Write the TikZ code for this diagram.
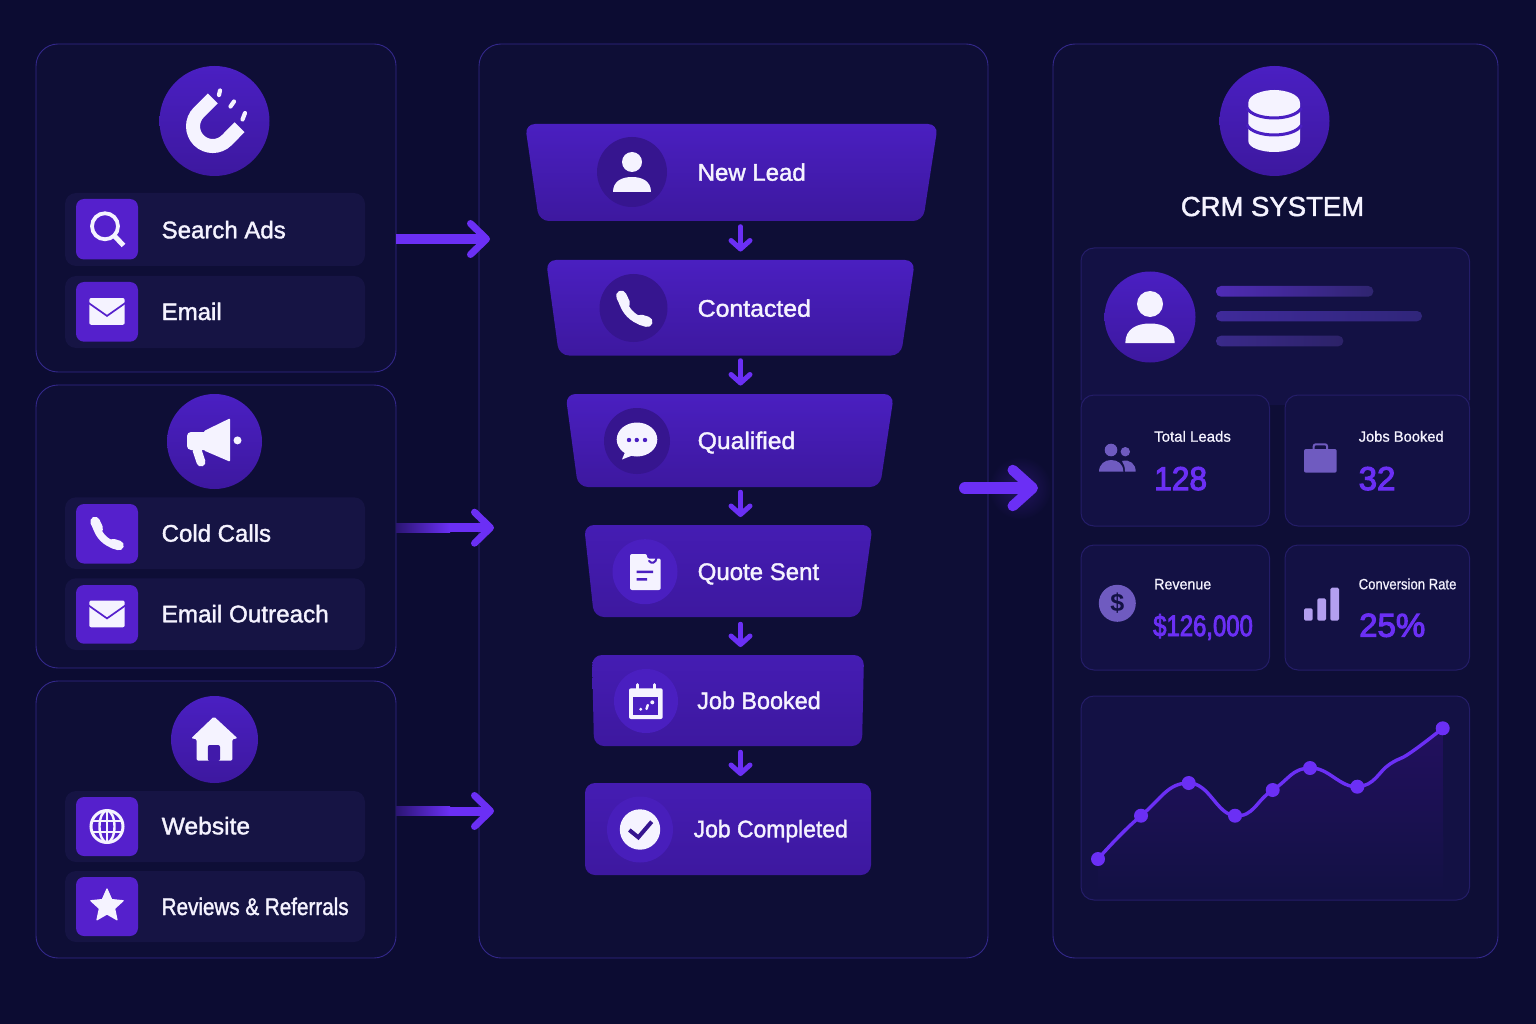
\documentclass[tikz,border=0pt]{standalone}
\usepackage{fontspec}
\setmainfont{Liberation Sans}
\newfontfamily\medf[FakeBold=1.6]{Liberation Sans}
\newfontfamily\smallf[FakeBold=0.8]{Liberation Sans}
\newfontfamily\numf[FakeBold=3.2]{Liberation Sans}
\usetikzlibrary{arrows.meta,calc}
\definecolor{bgc}{HTML}{0C0C32}
\definecolor{panelc}{HTML}{0E0E36}
\definecolor{linec}{HTML}{33288A}
\definecolor{rowc}{HTML}{161444}
\definecolor{cardc}{HTML}{131144}
\definecolor{cardl}{HTML}{241D68}
\definecolor{tilec}{HTML}{5520CC}
\definecolor{circt}{HTML}{4A1FC2}
\definecolor{circb}{HTML}{3D189F}
\definecolor{stagedk}{HTML}{36158F}
\definecolor{stagelt}{HTML}{4A1FC0}
\colorlet{stagetop}{stagelt}
\definecolor{arrowc}{HTML}{6B2FF5}
\definecolor{txtc}{HTML}{F5F3FF}
\definecolor{iconc}{HTML}{6F5BC0}
\definecolor{barc}{HTML}{B39FF0}
\definecolor{lineAa}{HTML}{4F2BB5}
\definecolor{lineAb}{HTML}{2F2570}
\definecolor{lineBa}{HTML}{3F2A9A}
\definecolor{lineBb}{HTML}{30267A}
\definecolor{lineCa}{HTML}{3A2A8A}
\definecolor{lineCb}{HTML}{2C2268}
\definecolor{areat}{HTML}{22105F}
\tikzset{
  panel/.style={draw=linec,line width=.9pt,fill=panelc,rounded corners=22pt},
  rowbox/.style={fill=rowc,rounded corners=11pt},
  tile/.style={fill=tilec,rounded corners=8pt},
  card/.style={draw=cardl,line width=1pt,fill=cardc,rounded corners=13pt},
  ghost/.style={draw=none,fill=none},
  bigcirc/.style={circle,inner sep=0pt,top color=circt,bottom color=circb,draw=none},
  rowlabel/.style={anchor=base west,inner sep=0pt,text=txtc,font=\medf\fontsize{24}{24}\selectfont},
  smalllabel/.style={anchor=base west,inner sep=0pt,text=txtc,font=\smallf\fontsize{15}{15}\selectfont},
  numlabel/.style={anchor=base west,inner sep=0pt,text=arrowc,font=\numf\fontsize{33}{33}\selectfont},
  sidearrow/.style={draw=arrowc,line width=#1,-{Straight Barb[round,line width=7pt,length=16pt,width=31pt]}},
  downarrow/.style={draw=arrowc,line width=4.5pt,line cap=round,-{Straight Barb[round,line width=5pt,length=8.5pt,width=19pt]}},
  bigarrow/.style={draw=arrowc,line width=12pt,line cap=round,-{Straight Barb[round,line width=10.5pt,length=20pt,width=36pt]}},
}
% box node from corner coordinates
\newcommand\bx[6]{%
  \pgfmathsetmacro\cxv{(#3+#5)/2}\pgfmathsetmacro\cyv{(#4+#6)/2}%
  \pgfmathsetmacro\wv{#5-#3}\pgfmathsetmacro\hv{#6-#4}%
  \node[#1,inner sep=0pt,outer sep=0pt,minimum width=\wv pt,minimum height=\hv pt] (#2) at (\cxv,\cyv) {};}
% funnel stage: name, xtl xtr xbl xbr yt yb
\newcommand\stage[7]{%
  \shade[top color=stagetop,bottom color=circb,rounded corners=10pt]
    (#2,#6) -- (#3,#6) -- (#5,#7) -- (#4,#7) -- cycle;
  \bx{ghost}{#1}{#2}{#6}{#3}{#7}}
\newcommand\person[4]{\begin{scope}[shift={(#1,#2)},scale=#3]
  \fill[#4] (0,-10) circle (10);
  \fill[#4] (-19,20) .. controls (-19,9) and (-10,5) .. (0,5) .. controls (10,5) and (19,9) .. (19,20) -- cycle;
\end{scope}}
\newcommand\phoneicon[3]{\begin{scope}[shift={(#1,#2)},scale=#3]
  \draw[txtc,line width=#3*10.5pt,line cap=round] (-13,-13) -- (-9.5,-5.5);
  \draw[txtc,line width=#3*8pt] (-11.5,-8) .. controls (-9.5,2) and (-1,10) .. (8,12.5);
  \draw[txtc,line width=#3*10.5pt,line cap=round] (6.5,11) -- (13,13);
\end{scope}}
\newcommand\envelope[2]{\begin{scope}[shift={(#1,#2)}]
  \fill[txtc,rounded corners=2pt] (-17.7,-13.5) rectangle (17.7,13.3);
  \draw[tilec,line width=1.7pt] (-18.5,-8.6) -- (0,4.4) -- (18.5,-8.6);
\end{scope}}
\begin{document}
\begin{tikzpicture}[x=1pt,y=-1pt]
\useasboundingbox (0,0) rectangle (1536,1024);
\fill[bgc] (0,0) rectangle (1536,1024);
% ---- panels
\bx{panel}{srcA}{36}{44}{396}{372}
\bx{panel}{srcB}{36}{385}{396}{668}
\bx{panel}{srcC}{36}{681}{396}{958}
\bx{panel}{mid}{479}{44}{988}{958}
\bx{panel}{crm}{1053}{44}{1498}{958}
% ---- glow behind the big arrow
\shade[inner color=arrowc!24!bgc,outer color=bgc,draw=none] (1020,488) circle (31.5);
% ---- source group A
\node[bigcirc,minimum size=110pt] (cA) at (214.5,121) {};
\draw[txtc,line width=14pt] (212.8,98.4) -- (198.8,112.4)
  arc[start angle=135,end angle=315,radius=19.7pt] -- (239.6,127.2);
\draw[txtc,line width=4.2pt,line cap=round] (220,90.5) -- (219,95)
  (234,101.5) -- (230.5,106.5) (245,113) -- (242.5,119.5);
\bx{rowbox}{r1}{65}{193}{365}{266}
\bx{tile}{t1}{76}{199}{138}{259.5}
\draw[txtc,line width=3.8pt] (t1.center) ++(-2,-3) circle (13);
\draw[txtc,line width=5pt] (115,236.5) -- (123.5,245.5);
\node[rowlabel] (l1) at (161.5,238.3) {Search Ads};
\bx{rowbox}{r2}{65}{276}{365}{348}
\bx{tile}{t2}{76}{282}{138}{341.7}
\envelope{107}{311.5}
\node[rowlabel] (l2) at (161.5,320) {Email};
% ---- source group B
\node[bigcirc,minimum size=95pt] (cB) at (214.5,441.5) {};
\fill[txtc,rounded corners=4pt] (187,432) rectangle (208,450);
\fill[txtc,rounded corners=1pt] (204,431) -- (230,418.3) -- (230,461.7) -- (204,450.5) -- cycle;
\draw[txtc,line width=9pt,line cap=round] (197,450) -- (201,462);
\fill[txtc] (237.5,440.4) circle (4);
\bx{rowbox}{r3}{65}{497.3}{365}{569}
\bx{tile}{t3}{76}{504}{138}{563.5}
\phoneicon{107}{533.5}{.92}
\node[rowlabel] (l3) at (161.5,541.7) {Cold Calls};
\bx{rowbox}{r4}{65}{578.3}{365}{650}
\bx{tile}{t4}{76}{585}{138}{643.7}
\envelope{107}{614}
\node[rowlabel] (l4) at (161.5,622.3) {\scalebox{1.01}[1]{Email Outreach}};
% ---- source group C
\node[bigcirc,minimum size=87pt] (cC) at (214.5,739.5) {};
\fill[txtc,rounded corners=1.5pt] (214,716.5) -- (237.7,738.5) -- (232.3,739) -- (232.3,760.7)
  -- (196.7,760.7) -- (196.7,739) -- (191,738.5) -- cycle;
\fill[circb!70!circt,rounded corners=2pt] (207.8,761) -- (207.8,745) -- (220,745) -- (220,761) -- cycle;
\bx{rowbox}{r5}{65}{791}{365}{862}
\bx{tile}{t5}{76}{797}{138}{856}
\begin{scope}[shift={(t5.center)}]
  \draw[txtc,line width=3pt] (0,0) circle (16);
  \draw[txtc,line width=2.4pt] (0,0) ellipse (7.5 and 16);
  \draw[txtc,line width=2.4pt] (0,-16) -- (0,16) (-16,-5.5) -- (16,-5.5) (-16,5.5) -- (16,5.5);
\end{scope}
\node[rowlabel] (l5) at (161.5,834.3) {\scalebox{1.025}[1]{Website}};
\bx{rowbox}{r6}{65}{871}{365}{942}
\bx{tile}{t6}{76}{877}{138}{936}
\begin{scope}[shift={(107,906)}]
  \filldraw[txtc,line width=1.2pt,line join=round] (0,-17) -- (4.7,-6.4) -- (16.2,-5.3) -- (7.6,2.5) -- (10,13.8)
    -- (0,8) -- (-10,13.8) -- (-7.6,2.5) -- (-16.2,-5.3) -- (-4.7,-6.4) -- cycle;
\end{scope}
\node[rowlabel] (l6) at (161.5,915) {\scalebox{.86}[1]{Reviews \& Referrals}};
% ---- funnel stages
\coordinate (fx) at (740.5,0);
\stage{f1}{525}{938}{539}{923}{124}{221}
\node[circle,fill=stagedk,inner sep=0pt,minimum size=70pt] (i1) at (632,172) {};
\person{632}{172}{1}{txtc}
\node[rowlabel] (sl1) at (697.5,180.7) {New Lead};
\stage{f2}{546}{915}{559}{901}{260}{355.5}
\node[circle,fill=stagedk,inner sep=0pt,minimum size=68pt] (i2) at (633.5,308) {};
\phoneicon{634.3}{308.8}{1}
\node[rowlabel] (sl2) at (697.5,316.7) {\scalebox{1.035}[1]{Contacted}};
\stage{f3}{565.5}{894}{578}{880}{394}{487}
\node[circle,fill=stagedk,inner sep=0pt,minimum size=66pt] (i3) at (637,441) {};
\fill[txtc] (637,439.5) ellipse (20.3 and 17);
\fill[txtc] (626,450) -- (622,459.5) -- (636,454) -- cycle;
\fill[circt] (629,440) circle (2.2) (636.8,440) circle (2.2) (645,440) circle (2.2);
\node[rowlabel] (sl3) at (697.5,449) {\scalebox{1.03}[1]{Qualified}};
\colorlet{stagetop}{stagelt!60!circb}
\stage{f4}{584}{872.7}{594}{860}{525}{617}
\node[circle,fill=stagelt,inner sep=0pt,minimum size=65pt] (i4) at (645,571.7) {};
\fill[txtc,rounded corners=2pt] (630,590) -- (630,554) -- (647,554) -- (647,558.5) -- (656,558.5) -- (660.7,558.5) -- (660.7,590) -- cycle;
\fill[stagelt] (648.5,553) rectangle (662,558);
\draw[stagelt,line width=2pt,line cap=round] (649,561) .. controls (651.5,564) and (656,563) .. (656.5,558);
\fill[stagelt] (636.7,570.6) rectangle (653,573) (636.7,578.2) rectangle (647,580.6);
\node[rowlabel] (sl4) at (697.5,580) {Quote Sent};
\stage{f5}{592}{864}{594}{862}{655}{746}
\node[circle,fill=stagelt,inner sep=0pt,minimum size=64pt] (i5) at (646,701) {};
\fill[txtc,rounded corners=2pt] (629,688.3) rectangle (662.7,719);
\draw[txtc,line width=3pt,line cap=round] (637.3,684.5) -- (637.3,690) (654,684.5) -- (654,690);
\fill[stagelt] (633.3,696.7) rectangle (658.3,715);
\fill[txtc] (640.7,709.3) circle (1.6);
\draw[txtc,line width=2.4pt,line cap=round] (646.5,709) -- (647.8,705);
\fill[txtc] (652.3,702.3) circle (2);
\node[rowlabel] (sl5) at (697,709) {\scalebox{.975}[1]{Job Booked}};
\stage{f6}{585}{871}{585}{871}{783}{875}
\node[circle,fill=stagelt!85!circb,inner sep=0pt,minimum size=66pt] (i6) at (640,829.5) {};
\fill[txtc] (640,829.5) circle (20.2);
\draw[stagedk,line width=4pt] (629.3,830) -- (638.3,837.3) -- (651.7,821.7);
\node[rowlabel] (sl6) at (693.5,837.3) {\scalebox{.955}[1]{Job Completed}};
% ---- connectors between stages
\draw[downarrow,shorten <=5.5pt,shorten >=8.5pt] (f1.south -| fx) -- (f2.north -| fx);
\draw[downarrow,shorten <=5pt,shorten >=8.5pt] (f2.south -| fx) -- (f3.north -| fx);
\draw[downarrow,shorten <=5pt,shorten >=8pt] (f3.south -| fx) -- (f4.north -| fx);
\draw[downarrow,shorten <=7pt,shorten >=8pt] (f4.south -| fx) -- (f5.north -| fx);
\draw[downarrow,shorten <=6pt,shorten >=7pt] (f5.south -| fx) -- (f6.north -| fx);
% ---- CRM column
\node[bigcirc,minimum size=110pt] (cD) at (1274.5,121) {};
\fill[txtc] (1248.3,103) .. controls (1248.3,94) and (1264,90) .. (1274.2,90) .. controls (1285,90) and (1300,94) .. (1300,103)
  -- (1300,141) .. controls (1300,148) and (1286,152) .. (1274.2,152) .. controls (1262,152) and (1248.3,148) .. (1248.3,141) -- cycle;
\draw[circt,line width=3pt] (1247,108) .. controls (1254,121.3) and (1294,121.3) .. (1301.5,108);
\draw[circt,line width=3pt] (1247,125) .. controls (1254,138.3) and (1294,138.3) .. (1301.5,125);
\node[anchor=base,inner sep=0pt,text=txtc,font=\medf\fontsize{27.5}{28}\selectfont] (crmt) at (1272.5,216) {CRM SYSTEM};
% profile card, its lower edge hidden behind the stats
\fill[cardc,rounded corners=13pt] (1081,405) -- (1081,248) -- (1469.5,248) -- (1469.5,405) -- cycle;
\fill[cardc] (1081,395) rectangle (1469.5,405);
\draw[cardl,line width=1pt,rounded corners=13pt] (1081,400) -- (1081,248) -- (1469.5,248) -- (1469.5,400);
\node[bigcirc,minimum size=91pt] (av) at (1150,317) {};
\person{1150}{317}{1.3}{txtc}
\shade[left color=lineAa,right color=lineAb,rounded corners=5pt] (1216,286) rectangle (1373.3,296.7);
\shade[left color=lineBa,right color=lineBb,rounded corners=5pt] (1216,311) rectangle (1422,321.3);
\shade[left color=lineCa,right color=lineCb,rounded corners=5pt] (1216,335.7) rectangle (1343.3,346.3);
% stats
\bx{card}{st1}{1081}{395}{1269.5}{526}
\bx{card}{st2}{1285}{395}{1469.5}{526}
\bx{card}{st3}{1081}{545}{1269.5}{670}
\bx{card}{st4}{1285}{545}{1469.5}{670}
\fill[iconc] (1111,450) circle (6.3) (1125.3,451.7) circle (4.7);
\fill[iconc] (1099,471.7) .. controls (1099,464) and (1105,460) .. (1111,460) .. controls (1118,460) and (1123.3,464) .. (1123.3,471.7) -- cycle;
\fill[iconc] (1125,471.7) .. controls (1125,467) and (1124,464) .. (1122,461) .. controls (1130,459) and (1135.7,464) .. (1135.7,471.7) -- cycle;
\node[smalllabel] (s1a) at (1154,441.7) {Total Leads};
\node[numlabel] (s1b) at (1154,490) {\scalebox{.96}[1]{128}};
\fill[iconc,rounded corners=2pt] (1304,449) rectangle (1336.7,472.7);
\draw[iconc,line width=2pt,rounded corners=2pt] (1313.7,450) -- (1313.7,444.3) -- (1327,444.3) -- (1327,450);
\node[smalllabel] (s2a) at (1358.5,441.7) {\scalebox{.98}[1]{Jobs Booked}};
\node[numlabel] (s2b) at (1358.5,490) {32};
\fill[iconc] (1117.3,603.3) circle (18.5);
\node[inner sep=0pt,text=cardc,font=\bfseries\fontsize{25}{25}\selectfont] (dol) at (1117.3,603.3) {\$};
\node[smalllabel] (s3a) at (1154,589.3) {\scalebox{.95}[1]{Revenue}};
\node[numlabel,font=\numf\fontsize{29.5}{30}\selectfont] (s3b) at (1153,636) {\scalebox{.81}[1]{\$126,000}};
\fill[barc,rounded corners=1.5pt] (1304,608.3) rectangle (1312.7,620.7) (1317.3,598.3) rectangle (1326,620.7) (1330.3,587.7) rectangle (1339,620.7);
\node[smalllabel] (s4a) at (1358.5,589.3) {\scalebox{.875}[1]{Conversion Rate}};
\node[numlabel] (s4b) at (1359,636.7) {25\%};
% chart
\bx{card}{chart}{1081}{696}{1469.5}{900}
\coordinate (p1) at (1098,859);
\coordinate (p2) at (1141,815.7);
\coordinate (p3) at (1188.7,783);
\coordinate (p4) at (1235,815.7);
\coordinate (p5) at (1272.7,790);
\coordinate (p6) at (1310,768);
\coordinate (p7) at (1357.3,786.7);
\coordinate (p8) at (1390,764);
\coordinate (p9) at (1410,753);
\coordinate (p10) at (1442.7,728.3);
\shade[top color=areat,bottom color=cardc]
  plot[smooth,tension=.8] coordinates {(p1) (p2) (p3) (p4) (p5) (p6) (p7) (p8) (p9) (p10)} -- (1443.5,892) -- (1098,892) -- cycle;
\draw[arrowc,line width=3.4pt] plot[smooth,tension=.8] coordinates {(p1) (p2) (p3) (p4) (p5) (p6) (p7) (p8) (p9) (p10)};
\fill[arrowc] (p1) circle (7) (p2) circle (7) (p3) circle (7) (p4) circle (7) (p5) circle (7) (p6) circle (7) (p7) circle (7) (p10) circle (7);
% ---- flow connectors
\coordinate (eA) at (490,239);
\coordinate (eB) at (494,527.7);
\coordinate (eC) at (494,811);
\draw[sidearrow=10pt] (srcA.east |- eA) -- (eA);
\draw[sidearrow=9pt] (srcB.east |- eB) -- (eB);
\draw[sidearrow=9pt] (srcC.east |- eC) -- (eC);
\shade[left color=panelc!60!tilec,right color=arrowc,draw=none] (396,523.2) rectangle (450,532.2);
\shade[left color=panelc!60!tilec,right color=arrowc,draw=none] (396,806.5) rectangle (450,815.5);
\coordinate (bigS) at (965,488);
\coordinate (bigE) at (1038,488);
\draw[bigarrow] (bigS) -- (bigE);
\end{tikzpicture}
\end{document}
